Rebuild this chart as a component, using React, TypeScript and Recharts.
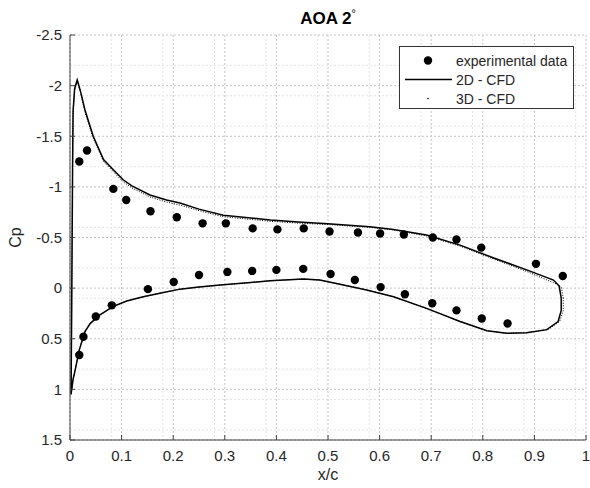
import React from 'react';
import {
    ComposedChart,
    Line,
    Scatter,
    XAxis,
    YAxis,
    CartesianGrid,
    Label
} from 'recharts';

// experimental pressure taps (upper + lower surface)
const expX = [0.018, 0.033, 0.084, 0.109, 0.156, 0.207, 0.257, 0.302, 0.354, 0.402, 0.453, 0.503, 0.558, 0.601, 0.647, 0.703, 0.749, 0.797, 0.903, 0.955,
    0.018, 0.026, 0.05, 0.081, 0.151, 0.201, 0.25, 0.305, 0.353, 0.4, 0.452, 0.505, 0.552, 0.602, 0.649, 0.702, 0.749, 0.798, 0.848];
const expCp = [-1.25, -1.36, -0.98, -0.87, -0.76, -0.7, -0.64, -0.64, -0.59, -0.58, -0.59, -0.56, -0.55, -0.54, -0.53, -0.5, -0.48, -0.4, -0.24, -0.12,
    0.66, 0.48, 0.28, 0.17, 0.01, -0.06, -0.13, -0.16, -0.17, -0.18, -0.19, -0.14, -0.08, -0.01, 0.06, 0.15, 0.22, 0.3, 0.35];

// 2D CFD, traced around the airfoil: upper TE -> LE -> lower TE
const cfd2dX = [0.952, 0.948, 0.937, 0.885, 0.82, 0.756, 0.691, 0.627, 0.581, 0.5, 0.45, 0.388, 0.297, 0.25, 0.213, 0.187, 0.155, 0.12, 0.103, 0.084, 0.065, 0.045, 0.029, 0.02, 0.014, 0.009, 0.006, 0.005, 0.004, 0.003, 0.002,
    0.006, 0.01, 0.018, 0.029, 0.039, 0.058, 0.084, 0.11, 0.142, 0.174, 0.213, 0.25, 0.291, 0.35, 0.388, 0.452, 0.484, 0.53, 0.575, 0.627, 0.691, 0.756, 0.808, 0.846, 0.885, 0.924, 0.946, 0.952, 0.952];
const cfd2dCp = [0.1, -0.02, -0.08, -0.18, -0.3, -0.425, -0.525, -0.58, -0.607, -0.635, -0.65, -0.673, -0.72, -0.78, -0.84, -0.87, -0.92, -1.01, -1.07, -1.17, -1.27, -1.5, -1.76, -1.95, -2.056, -1.97, -1.75, -1.2, -0.4, 0.4, 1.05,
    0.9, 0.81, 0.61, 0.43, 0.35, 0.265, 0.18, 0.127, 0.085, 0.05, 0.01, -0.01, -0.03, -0.055, -0.073, -0.09, -0.08, -0.03, 0.018, 0.085, 0.2, 0.33, 0.42, 0.446, 0.44, 0.41, 0.33, 0.22, 0.1];

// 3D CFD, same path
const cfd3dX = [0.956, 0.952, 0.943, 0.885, 0.82, 0.756, 0.691, 0.627, 0.581, 0.5, 0.45, 0.388, 0.297, 0.25, 0.213, 0.187, 0.155, 0.12, 0.103, 0.084, 0.065, 0.045, 0.029, 0.02, 0.014, 0.009, 0.006, 0.005, 0.004, 0.003, 0.002,
    0.006, 0.01, 0.018, 0.029, 0.039, 0.058, 0.084, 0.11, 0.142, 0.174, 0.213, 0.25, 0.291, 0.35, 0.388, 0.452, 0.484, 0.53, 0.575, 0.627, 0.691, 0.756, 0.808, 0.846, 0.885, 0.926, 0.949, 0.956, 0.956];
const cfd3dCp = [0.1, -0.01, -0.04, -0.165, -0.29, -0.415, -0.515, -0.575, -0.6, -0.628, -0.64, -0.66, -0.705, -0.765, -0.82, -0.85, -0.9, -0.99, -1.05, -1.15, -1.25, -1.48, -1.74, -1.94, -2.045, -1.96, -1.75, -1.2, -0.4, 0.4, 1.05,
    0.9, 0.81, 0.61, 0.43, 0.35, 0.265, 0.18, 0.127, 0.085, 0.05, 0.01, -0.01, -0.03, -0.055, -0.073, -0.09, -0.08, -0.03, 0.018, 0.085, 0.2, 0.33, 0.42, 0.446, 0.44, 0.41, 0.33, 0.22, 0.1];

const xTicks = [0, 0.1, 0.2, 0.3, 0.4, 0.5, 0.6, 0.7, 0.8, 0.9, 1];
const yTicks = [-2.5, -2, -1.5, -1, -0.5, 0, 0.5, 1, 1.5];
const xMinor = [0.02, 0.04, 0.06, 0.08, 0.12, 0.14, 0.16, 0.18, 0.22, 0.24, 0.26, 0.28, 0.32, 0.34, 0.36, 0.38, 0.42, 0.44, 0.46, 0.48,
    0.52, 0.54, 0.56, 0.58, 0.62, 0.64, 0.66, 0.68, 0.72, 0.74, 0.76, 0.78, 0.82, 0.84, 0.86, 0.88, 0.92, 0.94, 0.96, 0.98];
const yMinor = [-2.4, -2.3, -2.2, -2.1, -1.9, -1.8, -1.7, -1.6, -1.4, -1.3, -1.2, -1.1, -0.9, -0.8, -0.7, -0.6, -0.4, -0.3, -0.2, -0.1,
    0.1, 0.2, 0.3, 0.4, 0.6, 0.7, 0.8, 0.9, 1.1, 1.2, 1.3, 1.4];
const legendNames = ['experimental data', '2D - CFD', '3D - CFD'];

const toPoints = (xs: number[], ys: number[]) => xs.map((x, i) => ({ x, y: ys[i] }));
const expData = toPoints(expX, expCp);
const data2d = toPoints(cfd2dX, cfd2dCp);
const data3d = toPoints(cfd3dX, cfd3dCp);

const FONT = '"Liberation Sans", Arial, Helvetica, sans-serif';
const AXIS = '#404040';
const tickStyle = { fill: '#262626', fontSize: 15, fontFamily: FONT };

// eslint-disable-next-line @typescript-eslint/no-explicit-any
const Dot = (props: any) => <circle cx={props.cx} cy={props.cy} r={4.2} fill="#000" />;

// MATLAB-style boxed legend, drawn over the plot
const MatlabLegend = () => (
    <div style={{ position: 'absolute', left: 399, top: 46, border: '1px solid #333', background: '#fff', width: 173, height: 61, fontFamily: FONT, fontSize: 14, color: '#262626' }}>
        {legendNames.map((name, i) => (
            <div key={name} style={{ position: 'absolute', top: 4 + i * 19, left: 0, height: 19, display: 'flex', alignItems: 'center' }}>
                <svg width={56} height={19}>
                    {i === 0 && <circle cx={28} cy={9.5} r={4.2} fill="#000" />}
                    {i === 1 && <line x1={5} x2={52} y1={9.5} y2={9.5} stroke="#000" strokeWidth={1.5} />}
                    {i === 2 && <circle cx={28} cy={9.5} r={0.8} fill="#000" />}
                </svg>
                <span>{name}</span>
            </div>
        ))}
    </div>
);

export default function App() {
    return (
        <div style={{ position: 'absolute', left: 0, top: 0, width: 590, height: 488, background: '#fff' }}>
            <ComposedChart width={590} height={488} margin={{ top: 35, right: 4, bottom: 18, left: 30 }}>
                <CartesianGrid stroke="#e3e3e3" strokeDasharray="2 2" verticalValues={xMinor} horizontalValues={yMinor} />
                <CartesianGrid stroke="#c4c4c4" strokeDasharray="2 2" verticalValues={xTicks} horizontalValues={yTicks} />
                <XAxis
                    dataKey="x"
                    type="number"
                    domain={[0, 1]}
                    ticks={xTicks}
                    allowDataOverflow
                    height={30}
                    tickSize={-5}
                    tickMargin={15}
                    stroke={AXIS}
                    tick={tickStyle}
                >
                    <Label value="x/c" position="bottom" offset={-1} style={{ fill: '#262626', fontSize: 16, fontFamily: FONT }} />
                </XAxis>
                <XAxis xAxisId="top" orientation="top" type="number" domain={[0, 1]} ticks={xTicks} height={0} tickSize={-5} tick={false} stroke={AXIS} allowDataOverflow />
                <YAxis
                    dataKey="y"
                    type="number"
                    reversed
                    domain={[-2.5, 1.5]}
                    ticks={yTicks}
                    allowDataOverflow
                    width={40}
                    tickSize={-5}
                    tickMargin={13}
                    stroke={AXIS}
                    tick={tickStyle}
                >
                    <Label value="Cp" angle={-90} position="left" offset={15} style={{ fill: '#262626', fontSize: 16, fontFamily: FONT, textAnchor: 'middle' }} />
                </YAxis>
                <YAxis yAxisId="right" orientation="right" type="number" reversed domain={[-2.5, 1.5]} ticks={yTicks} width={0} tickSize={-5} tick={false} stroke={AXIS} allowDataOverflow />
                <Line data={data3d} dataKey="y" name="3D - CFD" type="linear" stroke="#000" strokeWidth={1} strokeDasharray="1 1.5" dot={false} isAnimationActive={false} />
                <Line data={data2d} dataKey="y" name="2D - CFD" type="linear" stroke="#000" strokeWidth={1.5} dot={false} isAnimationActive={false} />
                <Scatter data={expData} dataKey="y" name="experimental data" fill="#000" shape={<Dot />} isAnimationActive={false} />
            </ComposedChart>
            <div style={{ position: 'absolute', left: 70, top: 7, width: 516, textAlign: 'center', fontFamily: FONT, fontWeight: 'bold', fontSize: 17, color: '#000' }}>
                AOA 2<sup style={{ fontSize: 11, fontWeight: 'normal' }}>°</sup>
            </div>
            <MatlabLegend />
        </div>
    );
}
